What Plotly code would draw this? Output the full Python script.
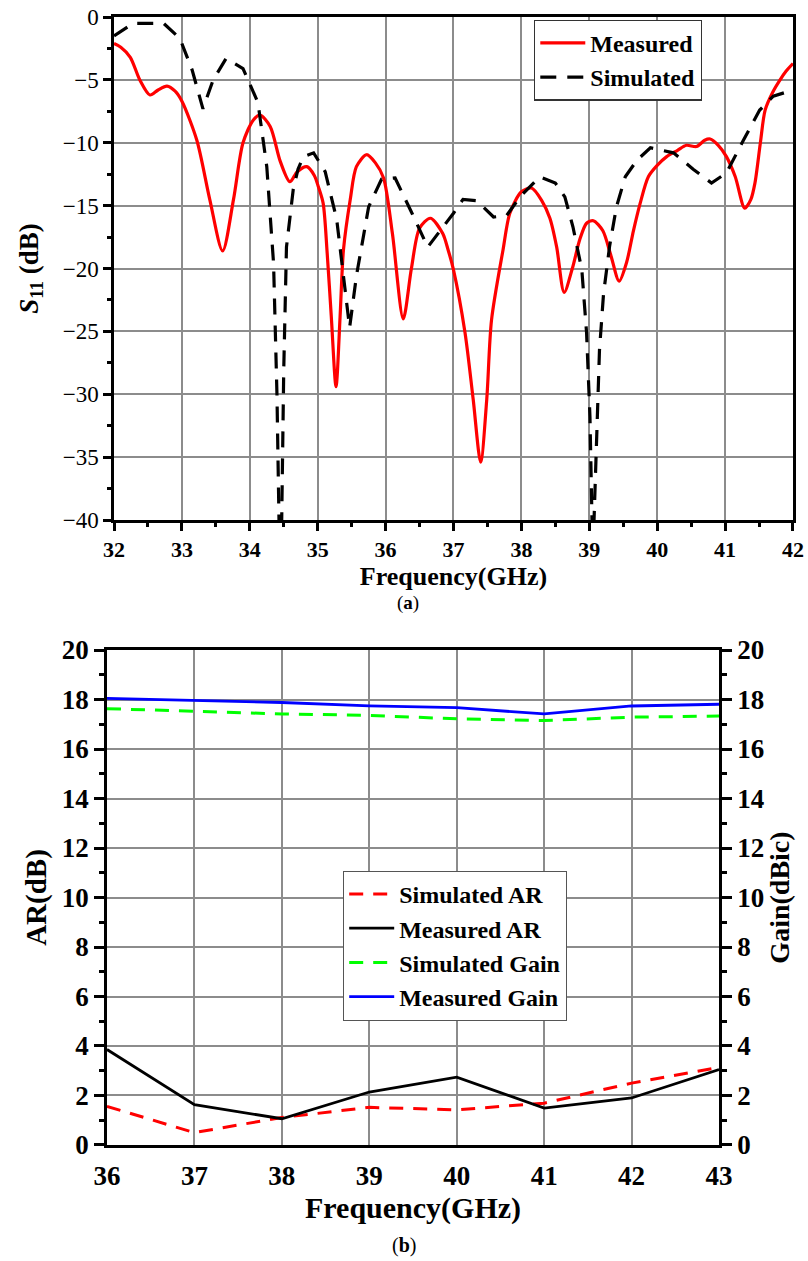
import plotly.graph_objects as go

# ---------------- (a) S11 data ----------------
freq_meas = [32.0, 32.1, 32.24, 32.38, 32.53, 32.65, 32.78, 32.9, 33.0, 33.22, 33.41, 33.6,
             33.76, 33.9, 34.05, 34.15, 34.3, 34.45, 34.59, 34.7, 34.84, 34.95, 35.01, 35.08,
             35.14, 35.2, 35.27, 35.33, 35.38, 35.48, 35.57, 35.72, 35.85, 35.97, 36.1, 36.26,
             36.38, 36.5, 36.66, 36.84, 36.92, 37.0, 37.17, 37.29, 37.4, 37.49, 37.56, 37.73,
             37.83, 38.0, 38.15, 38.3, 38.42, 38.52, 38.63, 38.75, 38.86, 38.96, 39.06, 39.2,
             39.32, 39.44, 39.55, 39.65, 39.75, 39.87, 40.0, 40.14, 40.3, 40.43, 40.58, 40.7,
             40.78, 40.9, 41.02, 41.15, 41.29, 41.38, 41.44, 41.52, 41.59, 41.7, 41.81, 41.9, 42.0]
s11_meas = [-2.1, -2.4, -3.2, -5.0, -6.2, -5.8, -5.5, -5.9, -6.7, -9.8, -14.5, -18.6,
            -14.5, -10.0, -8.2, -7.8, -8.7, -11.5, -13.1, -12.3, -11.9, -12.6, -13.5, -14.8,
            -18.8, -23.8, -29.4, -23.8, -18.5, -14.5, -11.9, -10.95, -11.6, -12.8, -17.2, -24.0,
            -20.0, -16.8, -16.0, -17.2, -18.5, -20.1, -25.1, -30.4, -35.4, -30.4, -24.1, -18.5,
            -15.6, -13.9, -13.6, -14.6, -16.0, -18.3, -21.9, -20.0, -17.7, -16.4, -16.2, -17.0,
            -19.0, -21.0, -19.5, -17.0, -14.8, -12.7, -11.8, -11.1, -10.6, -10.2, -10.3, -9.8,
            -9.7, -10.2, -11.1, -12.7, -15.2, -14.5, -13.2, -10.0, -7.4, -6.0, -5.0, -4.3, -3.7]

freq_sim = [32.0, 32.28, 32.73, 32.97, 33.15, 33.31, 33.46, 33.65, 33.9, 34.0, 34.12, 34.25,
            34.35, 34.4, 34.43, 34.47, 34.5, 34.54, 34.64, 34.71, 34.79, 34.94, 35.11, 35.28,
            35.4, 35.47, 35.57, 35.75, 35.94, 36.14, 36.38, 36.62, 37.0, 37.14, 37.34, 37.59,
            37.78, 37.98, 38.27, 38.5, 38.64, 38.76, 38.89, 38.96, 39.01, 39.04, 39.07, 39.1,
            39.15, 39.21, 39.3, 39.4, 39.53, 39.7, 39.9, 40.24, 40.53, 40.8, 41.02, 41.27,
            41.51, 41.71, 42.0]
s11_sim = [-1.5, -0.5, -0.5, -1.7, -4.2, -7.3, -5.0, -3.3, -4.1, -5.3, -6.8, -11.9,
           -19.6, -30.0, -40.0, -40.0, -28.0, -18.3, -13.7, -12.1, -11.1, -10.8, -12.3, -16.1,
           -21.7, -24.7, -20.6, -15.1, -12.9, -12.8, -15.5, -18.3, -15.6, -14.5, -14.6, -15.9,
           -15.8, -14.3, -12.7, -13.2, -14.3, -16.7, -20.1, -25.1, -31.8, -40.0, -40.0, -34.4,
           -26.5, -22.0, -18.2, -15.1, -12.7, -11.4, -10.4, -10.8, -12.1, -13.2, -12.4, -9.8,
           -7.4, -6.3, -5.8]

# ---------------- (b) AR / Gain data ----------------
freq_b = [36, 37, 38, 39, 40, 41, 42, 43]
ar_sim = [1.56, 0.50, 1.11, 1.52, 1.42, 1.69, 2.50, 3.14]
ar_meas = [3.86, 1.63, 1.06, 2.14, 2.74, 1.49, 1.90, 3.05]
gain_sim = [17.63, 17.52, 17.42, 17.36, 17.22, 17.15, 17.29, 17.33]
gain_meas = [18.05, 17.98, 17.88, 17.74, 17.67, 17.42, 17.74, 17.81]

FONT = "Liberation Serif"
GRID = "#8c8c8c"

fig = go.Figure()

fig.add_trace(go.Scatter(x=freq_meas, y=s11_meas, name="Measured", mode="lines",
                         line=dict(color="#ff0000", width=3.2, shape="spline", smoothing=0.8),
                         xaxis="x", yaxis="y", legend="legend"))
fig.add_trace(go.Scatter(x=freq_sim, y=s11_sim, name="Simulated", mode="lines",
                         line=dict(color="black", width=3.2, dash="16px,11px"),
                         xaxis="x", yaxis="y", legend="legend"))

fig.add_trace(go.Scatter(x=freq_b, y=ar_sim, name="Simulated AR", mode="lines",
                         line=dict(color="#ff0000", width=3, dash="14px,10px"),
                         xaxis="x2", yaxis="y2", legend="legend2"))
fig.add_trace(go.Scatter(x=freq_b, y=ar_meas, name="Measured AR", mode="lines",
                         line=dict(color="black", width=2.8),
                         xaxis="x2", yaxis="y2", legend="legend2"))
fig.add_trace(go.Scatter(x=freq_b, y=gain_sim, name="Simulated Gain", mode="lines",
                         line=dict(color="#00ff00", width=3, dash="14px,10px"),
                         xaxis="x2", yaxis="y3", legend="legend2"))
fig.add_trace(go.Scatter(x=freq_b, y=gain_meas, name="Measured Gain", mode="lines",
                         line=dict(color="#0000ff", width=2.8),
                         xaxis="x2", yaxis="y3", legend="legend2"))

axis_common = dict(showline=True, linecolor="black", linewidth=2.5, zeroline=False,
                   gridcolor=GRID, gridwidth=1.5, tickcolor="black", tickwidth=2.5,
                   automargin=False)

fig.update_layout(
    width=808, height=1261,
    margin=dict(l=0, r=0, t=0, b=0, pad=0, autoexpand=False),
    paper_bgcolor="white", plot_bgcolor="white",
    font=dict(family=FONT, color="black"),
    xaxis=dict(domain=[0.1411, 0.9814], anchor="y", range=[32, 42], dtick=1,
               ticks="outside", ticklen=8, mirror=True, showgrid=True,
               minor=dict(ticks="outside", ticklen=4, dtick=0.5, tickcolor="black", tickwidth=2.5, showgrid=False),
               tickfont=dict(family=FONT, size=22, weight="bold"),
               title=dict(text="<b>Frequency(GHz)</b>", font=dict(family=FONT, size=26), standoff=0),
               **axis_common),
    yaxis=dict(domain=[0.5876, 0.9865], anchor="x", range=[-40, 0], dtick=5,
               ticks="outside", ticklen=8, mirror=True, showgrid=True,
               minor=dict(ticks="outside", ticklen=4, dtick=2.5, tickcolor="black", tickwidth=2.5, showgrid=False),
               tickfont=dict(family=FONT, size=23),
               title=dict(text="<b><i>S</i><sub>11</sub> (dB)</b>", font=dict(family=FONT, size=27), standoff=17),
               **axis_common),
    xaxis2=dict(domain=[0.1324, 0.8899], anchor="y2", range=[36, 43], dtick=1,
                ticks="", mirror=True, showgrid=True, ticklabelstandoff=5,
                tickfont=dict(family=FONT, size=27, weight="bold"),
                title=dict(text="<b>Frequency(GHz)</b>", font=dict(family=FONT, size=30), standoff=3),
                **axis_common),
    xaxis3=dict(overlaying="x2", anchor="y2", range=[36, 43],
                tickvals=[36, 37.4, 38.8, 40.2, 41.6, 43], ticks="outside", ticklen=12,
                tickcolor="black", tickwidth=2.5, showticklabels=False, showgrid=False,
                showline=False, zeroline=False,
                minor=dict(tickvals=[36.7, 38.1, 39.5, 40.9, 42.3], ticks="outside", ticklen=6,
                           tickcolor="black", tickwidth=2.5, showgrid=False)),
    yaxis2=dict(domain=[0.0920, 0.4845], anchor="x2", range=[0, 20], dtick=2,
                ticks="outside", ticklen=10, showgrid=True,
                minor=dict(ticks="outside", ticklen=5, dtick=1, tickcolor="black", tickwidth=2.5, showgrid=False),
                tickfont=dict(family=FONT, size=27, weight="bold"),
                title=dict(text="<b>AR(dB)</b>", font=dict(family=FONT, size=29), standoff=7),
                **axis_common),
    yaxis3=dict(overlaying="y2", anchor="x2", side="right", range=[0, 20], dtick=2,
                ticks="outside", ticklen=10, showgrid=False,
                minor=dict(ticks="outside", ticklen=5, dtick=1, tickcolor="black", tickwidth=2.5, showgrid=False),
                tickfont=dict(family=FONT, size=27, weight="bold"),
                title=dict(text="<b>Gain(dBic)</b>", font=dict(family=FONT, size=28), standoff=7),
                **axis_common),
    legend=dict(x=0.661, y=0.9845, xanchor="left", yanchor="top",
                bgcolor="white", bordercolor="#333333", borderwidth=1.2, itemwidth=45,
                font=dict(family=FONT, size=24, weight="bold"), tracegroupgap=0),
    legend2=dict(x=0.4245, y=0.3095, xanchor="left", yanchor="top",
                 bgcolor="white", bordercolor="#555555", borderwidth=1.2, itemwidth=45,
                 font=dict(family=FONT, size=24, weight="bold"), tracegroupgap=0),
    showlegend=True,
    annotations=[
        dict(text="(<b>a</b>)", x=408 / 808, y=1 - 603 / 1261, xref="paper", yref="paper",
             xanchor="center", yanchor="middle",
             showarrow=False, font=dict(family=FONT, size=19)),
        dict(text="(<b>b</b>)", x=404 / 808, y=1 - 1245 / 1261, xref="paper", yref="paper",
             xanchor="center", yanchor="middle",
             showarrow=False, font=dict(family=FONT, size=20)),
    ],
)

fig.write_html("out.html", config={"displayModeBar": False},
               post_script="document.body.style.margin='0';")
